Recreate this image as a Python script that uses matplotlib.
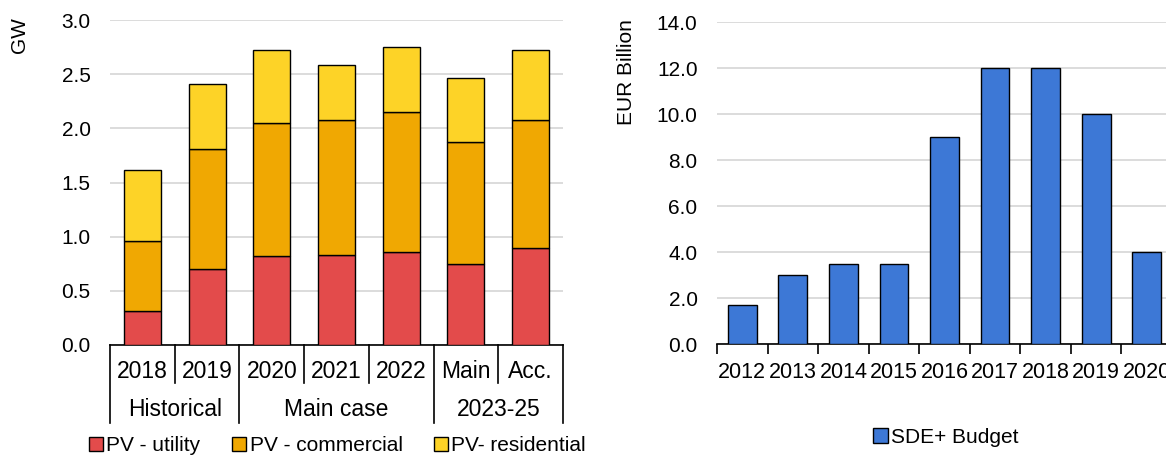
import matplotlib
matplotlib.use("Agg")
import matplotlib.pyplot as plt
import matplotlib.transforms as mtransforms

plt.rcParams['font.family'] = ['Liberation Sans', 'DejaVu Sans']
plt.rcParams['font.size'] = 15

# --- left panel data (GW) ---
years = ["2018", "2019", "2020", "2021", "2022", "Main", "Acc."]
groups = ["Historical", "Main case", "2023-25"]
group_sizes = [2, 3, 2]
pv_utility = [0.31, 0.70, 0.82, 0.83, 0.86, 0.75, 0.90]
pv_commercial = [0.65, 1.11, 1.23, 1.25, 1.29, 1.12, 1.18]
pv_residential = [0.66, 0.60, 0.67, 0.50, 0.60, 0.59, 0.64]

# --- right panel data (EUR billion) ---
sde_years = ["2012", "2013", "2014", "2015", "2016", "2017", "2018", "2019", "2020"]
sde_budget = [1.7, 3.0, 3.5, 3.5, 9.0, 12.0, 12.0, 10.0, 4.0]

RED = '#E34B4B'
ORANGE = '#F0A802'
YELLOW = '#FDD327'
BLUE = '#3D78D6'
GRID = '#D9D9D9'

fig = plt.figure(figsize=(11.66, 4.55), dpi=100)
ax1 = fig.add_axes([110 / 1166, 1 - 345 / 455, 453 / 1166, 325 / 455])
ax2 = fig.add_axes([717 / 1166, 1 - 344 / 455, 455 / 1166, 322 / 455])

# ---------------- left: stacked bars ----------------
x = range(len(years))
bottom2 = [a + b for a, b in zip(pv_utility, pv_commercial)]
kw = dict(width=0.57, edgecolor='black', linewidth=1.0, zorder=3)
ax1.bar(x, pv_utility, color=RED, label='PV - utility', **kw)
ax1.bar(x, pv_commercial, bottom=pv_utility, color=ORANGE, label='PV - commercial', **kw)
ax1.bar(x, pv_residential, bottom=bottom2, color=YELLOW, label='PV- residential', **kw)

ax1.set_xlim(-0.5, len(years) - 0.5)
ax1.set_ylim(0, 3.0)
ax1.set_yticks([0, 0.5, 1.0, 1.5, 2.0, 2.5, 3.0])
ax1.set_yticklabels([f"{v:.1f}" for v in ax1.get_yticks()])
ax1.set_ylabel("GW", va='center')
ax1.yaxis.set_label_coords(-0.199, 0.955)
ax1.grid(axis='y', color=GRID, linewidth=1.3, zorder=0)
ax1.set_xticks([])
ax1.tick_params(axis='y', length=0, pad=14)
for s in ['top', 'right', 'left']:
    ax1.spines[s].set_visible(False)
ax1.spines['bottom'].set_linewidth(1.2)

# multi-level category axis
trans = mtransforms.blended_transform_factory(ax1.transData, ax1.transAxes)
for i, lab in enumerate(years):
    ax1.text(i, -0.083, lab, transform=trans, ha='center', va='center', fontsize=16.5)
pos = -0.5
for g, n in zip(groups, group_sizes):
    ax1.plot([pos, pos], [0, -0.24], transform=trans, color='black', lw=1.2, clip_on=False)
    for k in range(1, n):
        ax1.plot([pos + k, pos + k], [0, -0.117], transform=trans, color='black', lw=1.2, clip_on=False)
    ax1.text(pos + n / 2, -0.2, g, transform=trans, ha='center', va='center', fontsize=16.5)
    pos += n
ax1.plot([pos, pos], [0, -0.24], transform=trans, color='black', lw=1.2, clip_on=False)

ax1.legend(loc='center', bbox_to_anchor=(0.502, -0.31), ncol=3, frameon=False,
           handlelength=0.7, handleheight=0.7, handletextpad=0.15,
           columnspacing=1.5, fontsize=15, borderaxespad=0)

# ---------------- right: SDE+ budget ----------------
x2 = range(len(sde_years))
ax2.bar(x2, sde_budget, width=0.57, color=BLUE, edgecolor='black', linewidth=1.0,
        zorder=3, label='SDE+ Budget')
ax2.set_xlim(-0.5, len(sde_years) - 0.5)
ax2.set_ylim(0, 14.0)
ax2.set_yticks([0, 2, 4, 6, 8, 10, 12, 14])
ax2.set_yticklabels([f"{v:.1f}" for v in ax2.get_yticks()])
ax2.set_ylabel("EUR Billion", va='center')
ax2.yaxis.set_label_coords(-0.199, 0.845)
ax2.grid(axis='y', color=GRID, linewidth=1.3, zorder=0)
ax2.set_xticks(list(x2))
ax2.set_xticklabels(sde_years, fontsize=15.5)
ax2.set_xticks([i - 0.5 for i in range(len(sde_years) + 1)], minor=True)
ax2.tick_params(axis='x', which='major', length=0, pad=13)
ax2.tick_params(axis='x', which='minor', length=7, width=1.2, direction='out')
ax2.tick_params(axis='y', length=0, pad=14)
for s in ['top', 'right', 'left']:
    ax2.spines[s].set_visible(False)
ax2.spines['bottom'].set_linewidth(1.2)

ax2.legend(loc='center', bbox_to_anchor=(0.503, -0.29), frameon=False,
           handlelength=0.7, handleheight=0.7, handletextpad=0.15,
           fontsize=15, borderaxespad=0)

fig.savefig("out.png", dpi=100)
